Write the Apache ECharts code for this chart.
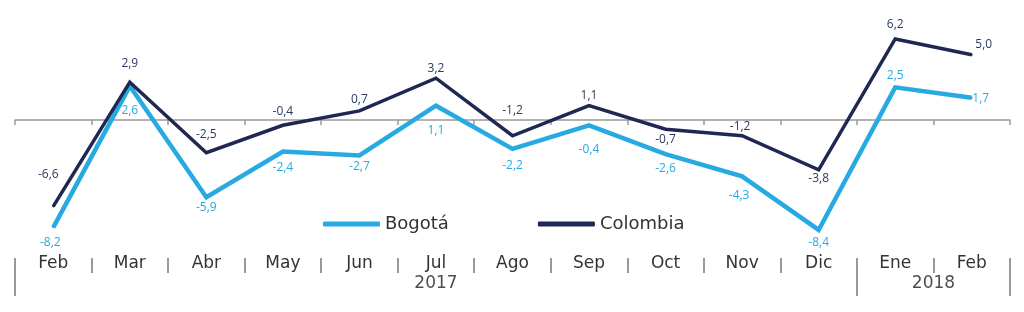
<!DOCTYPE html>
<html><head><meta charset="utf-8">
<script src="https://cdn.jsdelivr.net/npm/echarts@6/dist/echarts.min.js"></script>
<style>html,body{margin:0;padding:0;background:#fff}#c{width:1024px;height:312px}</style>
</head><body><div id="c"></div>
<script>
const months = ['Feb','Mar','Abr','May','Jun','Jul','Ago','Sep','Oct','Nov','Dic','Ene','Feb'];
const years = ['2017','2018'];
const monthsPerYear = [11, 2];
const bogota = [-8.2, 2.6, -5.9, -2.4, -2.7, 1.1, -2.2, -0.4, -2.6, -4.3, -8.4, 2.5, 1.7];
const colombia = [-6.6, 2.9, -2.5, -0.4, 0.7, 3.2, -1.2, 1.1, -0.7, -1.2, -3.8, 6.2, 5.0];

// label placement (style only): offsets from each point
const colOff = [[-5,-32],[0,-19],[0,-18],[0,-14],[0,-11],[0,-10],[0,-25],[0,-10],[0,10],[-2,-9],[0,9],[0,-14],[12,-10]];
const bogOff = [[-3,15],[0,25],[0,10],[0,16],[0,11],[0,25],[0,17],[0,24],[0,14],[-3,19],[0,13],[0,-12],[9,1]];

const C_BOG = '#27AAE1', C_COL = '#1F2852';
const FONT = 'Open Sans';
const FONT2 = 'DejaVu Sans';
const fmt = v => v.toFixed(1).replace('.', ',');

function mk(vals, offs){
  return vals.map((v,i)=>({value:v, label:{offset:offs[i]}}));
}

const bounds=[0]; monthsPerYear.forEach(n=>bounds.push(bounds[bounds.length-1]+n));
const yearPts = years.map((y,i)=>[(bounds[i]+bounds[i+1])/2, 0.32, y]);

const chart = echarts.init(document.getElementById('c'), null, {renderer:'canvas'});
chart.setOption({
  animation:false,
  textStyle:{fontFamily:FONT},
  grid:[
    {left:15,right:14,top:28.5,height:209.3},
    {left:15,right:14,top:258,height:15},
    {left:15,right:14,top:258,height:38}
  ],
  legend:{
    data:['Bogotá','Colombia'], left:323, top:215, padding:0,
    icon:'roundRect', itemWidth:57, itemHeight:5, itemGap:89,
    textStyle:{fontFamily:FONT2,fontSize:18,color:'#333'}
  },
  xAxis:[
    {type:'category',gridIndex:0,data:months,boundaryGap:true,
     axisLine:{onZero:true,lineStyle:{color:'#9a9a9a',width:1.5}},
     axisTick:{show:true,length:5,lineStyle:{color:'#9a9a9a',width:1.5}},
     axisLabel:{show:false},splitLine:{show:false}},
    {type:'category',gridIndex:1,data:months,boundaryGap:true,
     axisLine:{show:false},axisTick:{show:false},
     splitLine:{show:true,lineStyle:{color:'#9a9a9a',width:2}},
     axisLabel:{fontFamily:FONT2,fontSize:17,color:'#333',verticalAlign:'middle',margin:-9.5}},
    {type:'value',gridIndex:2,min:0,max:13,show:false}
  ],
  yAxis:[
    {type:'value',gridIndex:0,min:-9,max:7,show:false},
    {type:'value',gridIndex:1,min:0,max:1,show:false},
    {type:'value',gridIndex:2,min:0,max:1,show:false}
  ],
  series:[
    {name:'Bogotá',type:'line',xAxisIndex:0,yAxisIndex:0,data:mk(bogota,bogOff),
     symbol:'circle',symbolSize:2,showSymbol:true,color:C_BOG,
     lineStyle:{width:4.5,color:C_BOG,join:'miter'},itemStyle:{color:C_BOG},
     label:{show:true,position:'inside',color:C_BOG,fontFamily:FONT,fontSize:12,formatter:p=>fmt(p.value)},z:2},
    {name:'Colombia',type:'line',xAxisIndex:0,yAxisIndex:0,data:mk(colombia,colOff),
     symbol:'circle',symbolSize:2,showSymbol:true,color:C_COL,
     lineStyle:{width:3.5,color:C_COL,join:'miter'},itemStyle:{color:C_COL},
     label:{show:true,position:'inside',color:'#2B3A5E',fontFamily:FONT,fontSize:12,formatter:p=>fmt(p.value)},z:3},
    {type:'scatter',xAxisIndex:2,yAxisIndex:2,data:yearPts,symbolSize:1,itemStyle:{color:'rgba(0,0,0,0)'},silent:true,
     label:{show:true,position:'inside',formatter:p=>p.data[2],color:'#222',fontFamily:FONT2,fontSize:17},
     markLine:{silent:true,symbol:'none',label:{show:false},lineStyle:{color:'#9a9a9a',width:2,type:'solid'},
       data:bounds.map(b=>({xAxis:b}))}}
  ]
});
</script></body></html>
